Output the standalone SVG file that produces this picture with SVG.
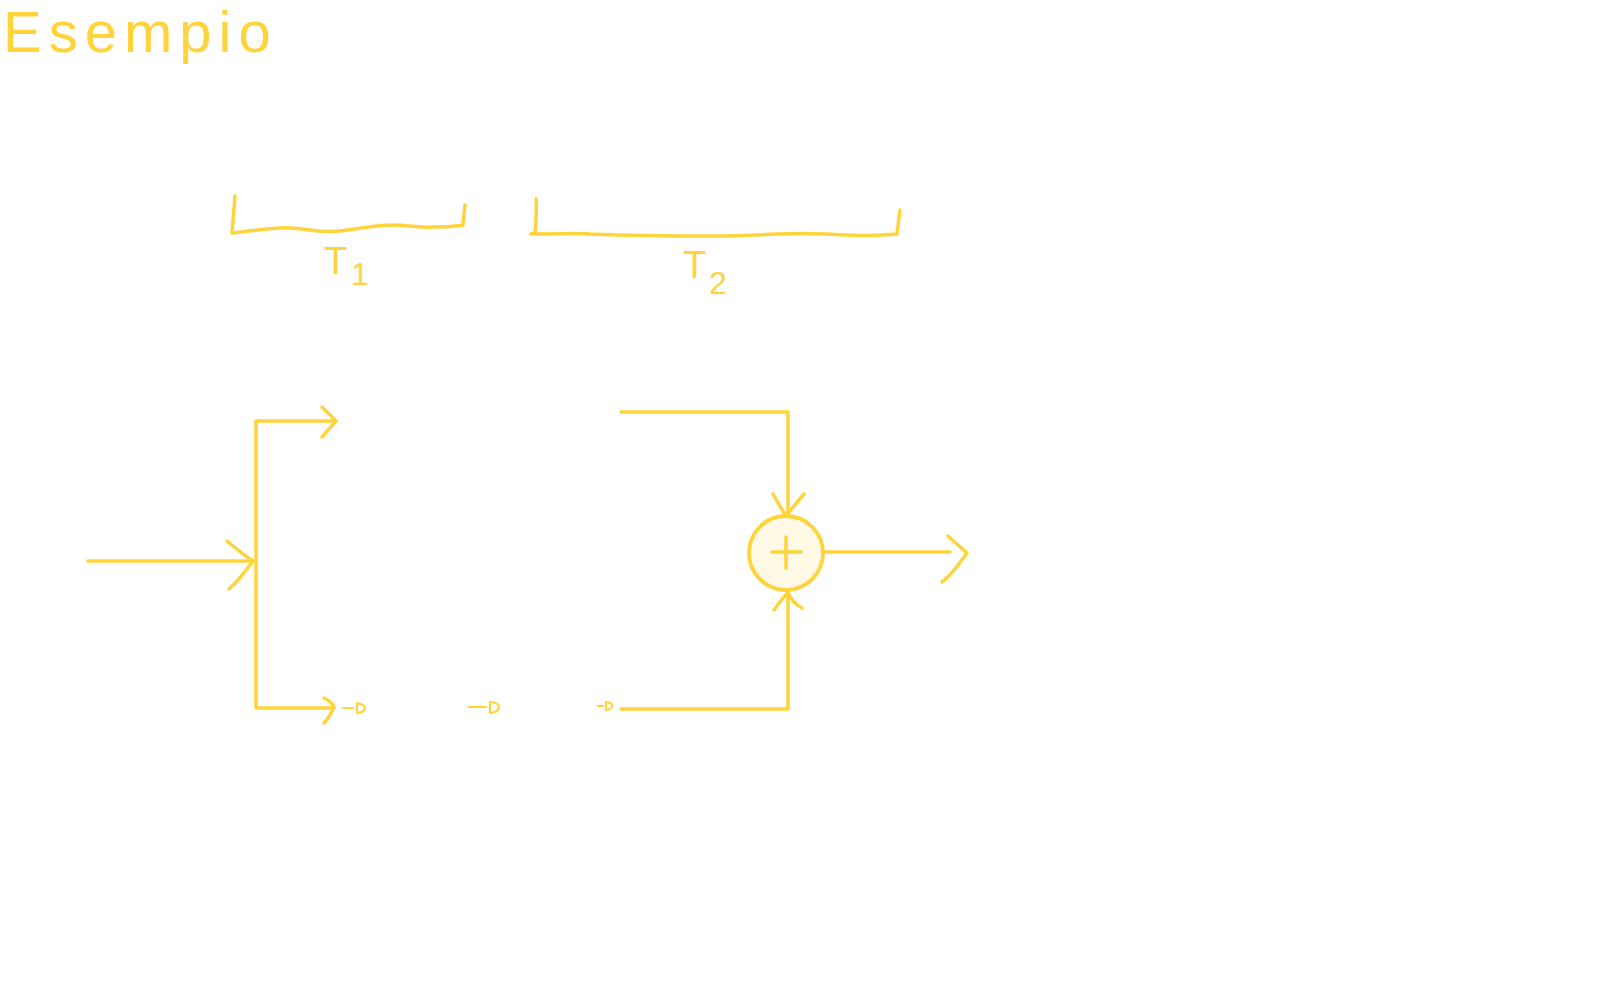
<svg xmlns="http://www.w3.org/2000/svg" width="1612" height="1000" viewBox="0 0 1612 1000">
<style>
.s{fill:none;stroke:#ffd43b;stroke-width:3.5;stroke-linecap:round;stroke-linejoin:round}
.thin{fill:none;stroke:#ffd43b;stroke-width:2.2;stroke-linecap:round;stroke-linejoin:round}
.t{fill:#ffd43b;font-family:"Liberation Sans",Arial,sans-serif}
</style>
<rect width="1612" height="1000" fill="#ffffff"/>
<g id="title">
<text class="t" x="3" y="52" font-size="58" letter-spacing="7">Esempio</text>
</g>
<g id="bracket-T1">
<path class="s" d="M235 196 L232 233 C260 230 275 227 290 228 C310 229 322 233 340 231 C360 229 375 225 392 225 C410 225 420 228 435 227 C450 227 455 226 463 225 L465 205"/>
<text class="t" x="324" y="274" font-size="38">T</text>
<text class="t" x="351" y="285" font-size="32">1</text>
</g>
<g id="bracket-T2">
<path class="s" d="M536 199 C537 210 536 222 535 233 L531 234 C560 234 575 233 590 234 C640 236 680 236 715 236 C760 236 790 232 825 234 C850 235 870 237 897 234 L900 210"/>
<text class="t" x="683" y="278" font-size="38">T</text>
<text class="t" x="709" y="294" font-size="32">2</text>
</g>
<g id="sum">
<circle cx="786" cy="553" r="37" fill="#fff9e6" stroke="#ffd43b" stroke-width="3.8"/>
<path class="s" d="M772 552 H801 M786 537 V568"/>
</g>
<g id="delay-marks">
<path class="thin" d="M343 708 H353 M357 703 V713 C367 712 368 705 357 703"/>
<path class="thin" d="M469 707 H486 M490 702 V713 C502 711 502 703 490 702"/>
<path class="thin" d="M598 706 H603 M606 702 V710 C615 708 614 703 606 702"/>
</g>
<g id="connectors">
<path class="s" d="M88 561 H253"/>
<path class="s" d="M227 541 C240 552 248 558 253 561 C245 572 238 581 229 589"/>
<path class="s" d="M336 421 H256 V708 H334"/>
<path class="s" d="M322 407 L336 421 L322 437"/>
<path class="s" d="M324 698 C330 701 333 704 334 707 C331 714 328 719 324 723"/>
<path class="s" d="M621 412 H788 V515"/>
<path class="s" d="M773 494 C778 503 782 510 786 516 C792 508 798 501 804 494"/>
<path class="s" d="M621 709 H788 V592"/>
<path class="s" d="M774 610 C779 603 784 597 788 592 C791 600 796 605 802 608"/>
<path class="s" d="M824 552 H950"/>
<path class="s" d="M948 536 L967 553 C958 565 952 575 942 582"/>
</g>
</svg>
